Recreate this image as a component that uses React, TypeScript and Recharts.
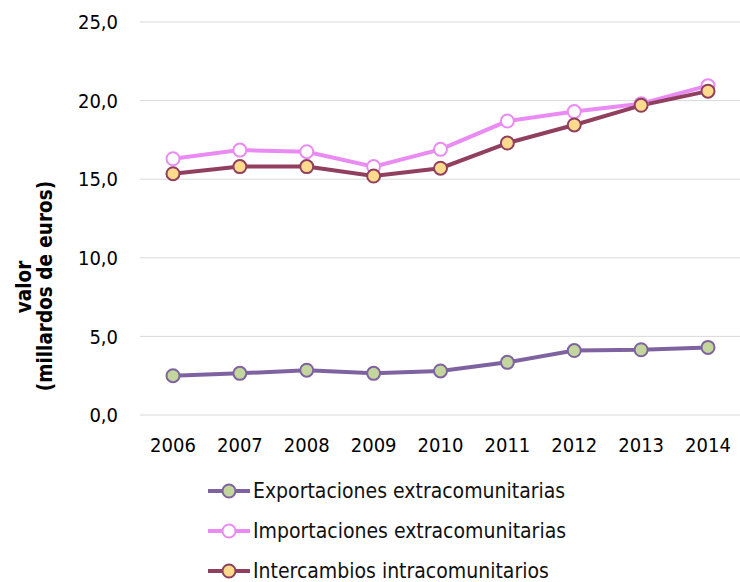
import React from "react";
import {
  LineChart,
  Line,
  XAxis,
  YAxis,
  CartesianGrid,
  Legend,
} from "recharts";

const years = ["2006", "2007", "2008", "2009", "2010", "2011", "2012", "2013", "2014"];
const exportaciones = [2.5, 2.65, 2.85, 2.65, 2.8, 3.35, 4.1, 4.15, 4.3];
const importaciones = [16.3, 16.85, 16.75, 15.8, 16.9, 18.7, 19.3, 19.8, 20.95];
const intercambios = [15.35, 15.8, 15.8, 15.2, 15.7, 17.3, 18.45, 19.7, 20.6];
const yTicks = [0, 5, 10, 15, 20, 25];

const series = [
  { key: "exp", name: "Exportaciones extracomunitarias", stroke: "#7F63A1", fill: "#C3D69B" },
  { key: "imp", name: "Importaciones extracomunitarias", stroke: "#EA8BF3", fill: "#FFFFFF" },
  { key: "intra", name: "Intercambios intracomunitarios", stroke: "#913F5E", fill: "#FDDA8C" },
];

const data = years.map((year, i) => ({
  year,
  exp: exportaciones[i],
  imp: importaciones[i],
  intra: intercambios[i],
}));

const FONT = '"DejaVu Sans Condensed", "DejaVu Sans", sans-serif';

const fmt = (v: number) => v.toFixed(1).replace(".", ",");

function LegendBox() {
  return (
    <div style={{ fontFamily: FONT, fontSize: 21, color: "#111" }}>
      {series.map((s) => (
        <div key={s.key} style={{ display: "flex", alignItems: "center", height: 40 }}>
          <svg width={44} height={20} style={{ marginRight: 2 }}>
            <line x1={1} y1={10} x2={43} y2={10} stroke={s.stroke} strokeWidth={4} />
            <circle cx={22} cy={10} r={6.5} fill={s.fill} stroke={s.stroke} strokeWidth={2} />
          </svg>
          <span style={{ whiteSpace: "nowrap" }}>{s.name}</span>
        </div>
      ))}
    </div>
  );
}

function YLabel() {
  return (
    <g fontFamily={FONT} fontWeight="bold" fontSize={20.5} fill="#000">
      <text x={24} y={287} textAnchor="middle" dominantBaseline="central" transform="rotate(-90 24 287)">
        valor
      </text>
      <text x={44.5} y={286} textAnchor="middle" dominantBaseline="central" transform="rotate(-90 44.5 286)">
        (millardos de euros)
      </text>
    </g>
  );
}

export default function App() {
  return (
    <div style={{ position: "absolute", left: 0, top: 0, width: 740, height: 582, fontFamily: FONT, background: "#fff" }}>
      <LineChart width={740} height={582} data={data} margin={{ top: 22, right: 0, left: 0, bottom: 127 }}>
        <CartesianGrid vertical={false} stroke="#D9D9D9" strokeWidth={1} />
        <XAxis
          dataKey="year"
          height={40}
          axisLine={false}
          tickLine={false}
          tickSize={0}
          tickMargin={23}
          padding={{ left: 33, right: 32 }}
          tick={{ fontSize: 20, fill: "#000" }}
          interval={0}
        />
        <YAxis
          width={140}
          domain={[0, 25]}
          ticks={yTicks}
          tickFormatter={fmt}
          axisLine={false}
          tickLine={false}
          tickSize={0}
          tickMargin={22}
          tick={{ fontSize: 20, fill: "#000" }}
          label={{ content: () => <YLabel /> }}
        />
        {series.map((s) => (
          <Line
            key={s.key}
            type="linear"
            dataKey={s.key}
            name={s.name}
            stroke={s.stroke}
            strokeWidth={4}
            dot={{ r: 6.5, fill: s.fill, stroke: s.stroke, strokeWidth: 2 }}
            activeDot={false}
            isAnimationActive={false}
          />
        ))}
        <Legend
          layout="vertical"
          align="center"
          verticalAlign="middle"
          content={() => <LegendBox />}
          wrapperStyle={{ top: 471, left: 207, width: 420, height: 120 }}
        />
      </LineChart>
    </div>
  );
}
